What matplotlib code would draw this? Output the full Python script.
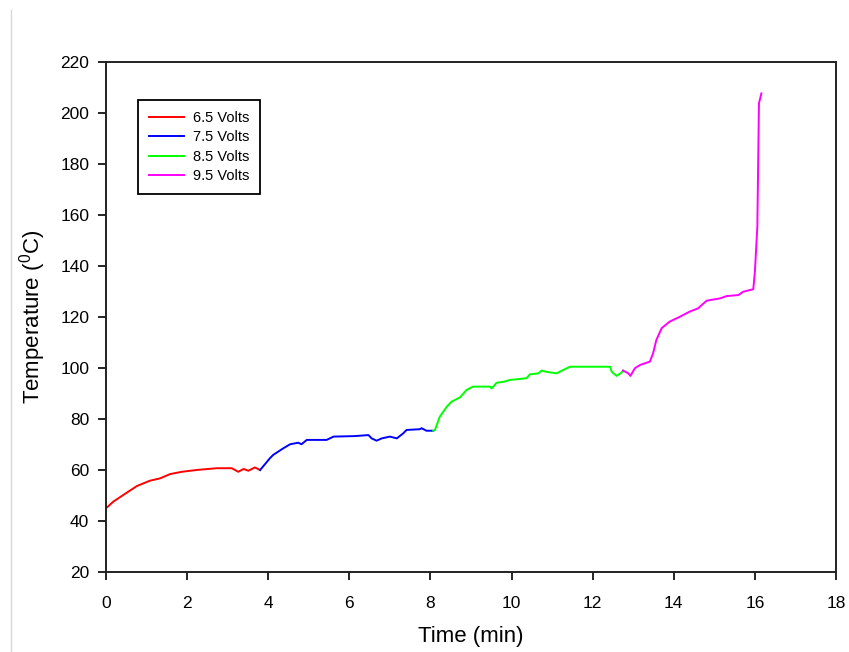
import numpy as np
import matplotlib
matplotlib.use('Agg')
import matplotlib.pyplot as plt
from matplotlib.lines import Line2D

plt.rcParams['font.family'] = ['Liberation Sans', 'DejaVu Sans']
plt.rcParams['mathtext.fontset'] = 'custom'
plt.rcParams['mathtext.rm'] = 'Liberation Sans'

# temperature vs time for each supply voltage
t_65 = [0.00, 0.18, 0.51, 0.76, 1.08, 1.33, 1.58, 1.87, 2.23, 2.73, 3.10, 3.26, 3.39, 3.51, 3.67, 3.80]
T_65 = [45.0, 47.6, 51.1, 53.7, 55.8, 56.7, 58.4, 59.3, 60.0, 60.7, 60.7, 59.3, 60.4, 59.7, 61.0, 60.0]

t_75 = [3.80, 4.04, 4.12, 4.37, 4.54, 4.74, 4.82, 4.95, 5.44, 5.61, 6.14, 6.47, 6.55, 6.67, 6.80,
        7.00, 7.17, 7.33, 7.41, 7.74, 7.78, 7.90, 8.07]
T_75 = [60.0, 64.6, 65.9, 68.5, 70.1, 70.7, 70.1, 71.8, 71.8, 73.1, 73.3, 73.7, 72.4, 71.5, 72.4,
        73.1, 72.4, 74.4, 75.7, 76.0, 76.4, 75.4, 75.4]

t_85 = [8.07, 8.11, 8.23, 8.40, 8.52, 8.73, 8.89, 9.05, 9.47, 9.51, 9.63, 9.80, 9.96, 10.37, 10.45,
        10.66, 10.74, 10.86, 11.11, 11.27, 11.44, 12.43, 12.47, 12.59, 12.71, 12.75]
T_85 = [75.4, 75.7, 80.9, 84.8, 86.8, 88.5, 91.4, 92.7, 92.7, 92.0, 94.2, 94.6, 95.3, 96.0, 97.5,
        97.9, 99.0, 98.5, 97.9, 99.2, 100.5, 100.5, 98.5, 96.9, 98.2, 99.0]

t_95 = [12.75, 12.88, 12.93, 13.04, 13.17, 13.41, 13.49, 13.57, 13.70, 13.90, 14.15, 14.39, 14.60,
        14.81, 15.14, 15.30, 15.59, 15.71, 15.96, 16.00, 16.06, 16.10, 16.16]
T_95 = [99.0, 97.9, 96.9, 99.9, 101.2, 102.5, 105.8, 111.0, 115.6, 118.2, 120.1, 122.1, 123.4,
        126.4, 127.3, 128.2, 128.6, 129.9, 130.9, 137.8, 155.4, 203.8, 207.7]

series = [
    (t_65, T_65, '#ff0000', '6.5 Volts'),
    (t_75, T_75, '#0000ff', '7.5 Volts'),
    (t_85, T_85, '#00ff00', '8.5 Volts'),
    (t_95, T_95, '#ff00ff', '9.5 Volts'),
]

fig = plt.figure(figsize=(8.49, 6.52), dpi=100)
ax = fig.add_axes([0.1249, 0.1227, 0.8598, 0.7822])

for t, T, c, lab in series:
    ax.plot(t, T, color=c, lw=1.4, label=lab)

ax.set_xlim(0, 18)
ax.set_ylim(20, 220)
ax.set_xticks(np.arange(0, 19, 2))
ax.set_yticks(np.arange(20, 221, 20))
ax.tick_params(direction='out', length=6, width=1.2, labelsize=12.5, colors='black')
ax.tick_params(axis='x', pad=11)
ax.tick_params(axis='y', pad=6)
ax.tick_params(top=False, right=False)
for s in ax.spines.values():
    s.set_linewidth(1.4)
    s.set_color('#222222')

ax.set_xlabel('Time (min)', fontsize=16, labelpad=11)
ax.set_ylabel('Temperature ($^{\\rm 0}$C)', fontsize=16, labelpad=9)

leg = ax.legend(loc='upper left', bbox_to_anchor=(0.044, 0.926), borderaxespad=0,
                fontsize=10.5, fancybox=False, edgecolor='black', framealpha=1,
                handlelength=2.4, handletextpad=0.6, labelspacing=0.38, borderpad=0.75)
leg.get_frame().set_linewidth(1.3)

# thin grey border on the left of the window
fig.add_artist(Line2D([11 / 849, 11 / 849], [0, 1 - 10 / 652], color='#d8d8d8', lw=1))

fig.savefig('out.png', dpi=100)
